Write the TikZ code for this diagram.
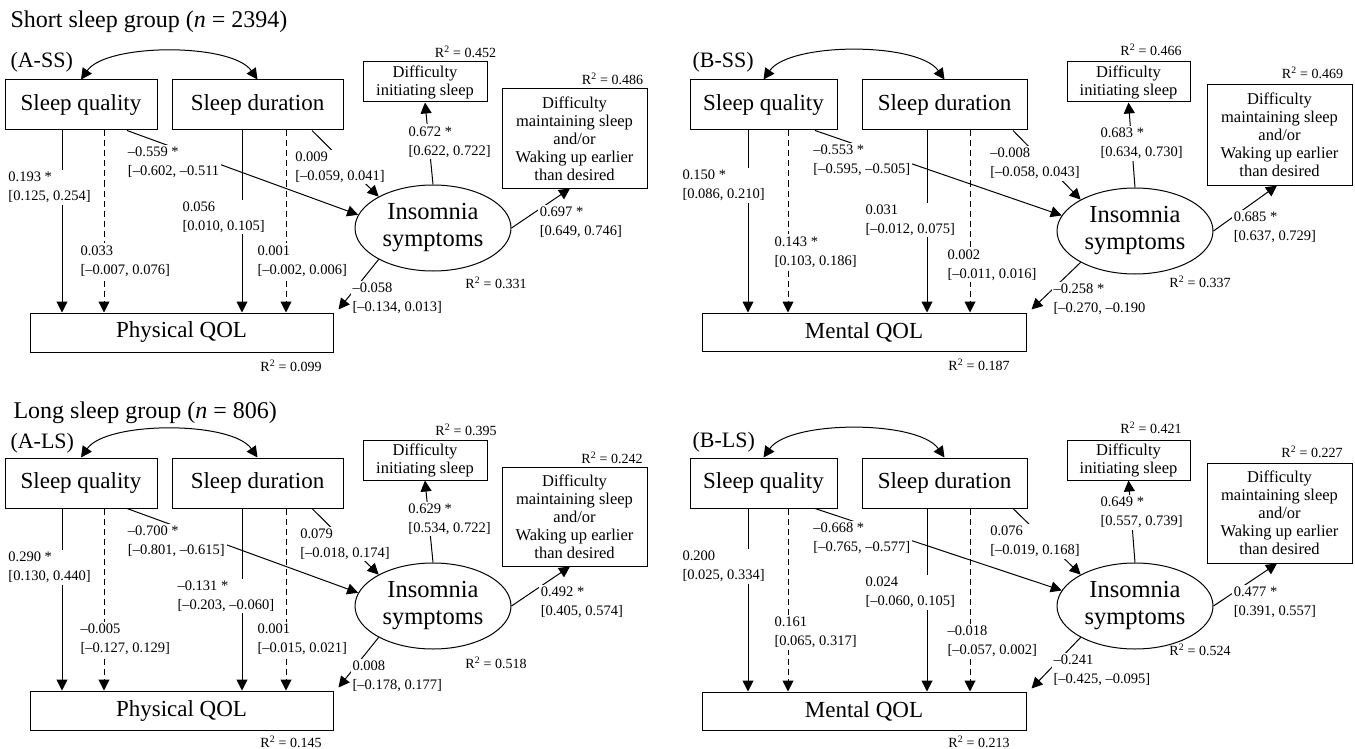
\documentclass[tikz,border=0pt]{standalone}
\usepackage{fontspec}
\setmainfont{Liberation Serif}
\usetikzlibrary{arrows.meta,shapes.geometric}
\tikzset{
  >={Triangle[length=11pt,width=11pt]},
  every path/.style={line width=1pt},
  box/.style={draw, inner sep=0pt, font=\fontsize{23}{27}\selectfont},
  sbox/.style={draw, inner sep=0pt, align=center, font=\fontsize{16.5}{18}\selectfont},
  ell/.style={draw, ellipse, inner sep=0pt, minimum width=156pt, minimum height=86pt, align=center, font=\fontsize{24.5}{27}\selectfont},
  lbl/.style={fill=white, inner sep=2pt, anchor=west, align=left, font=\fontsize{14.5}{19}\selectfont},
  rsq/.style={inner sep=0pt, font=\fontsize{14}{16}\selectfont},
  ttl/.style={inner sep=0pt, anchor=west, font=\fontsize{24}{28}\selectfont},
  tag/.style={inner sep=0pt, anchor=west, font=\fontsize{22}{26}\selectfont},
  dsh/.style={dash pattern=on 6pt off 4pt}
}
\begin{document}
\begin{tikzpicture}[x=1pt, y=1pt]
\useasboundingbox[fill=white] (0,0) rectangle (1355,-749);

% short sleep group
\node[ttl] (tshort) at (10,-22) {Short sleep group (\textit{n} = 2394)};

% (A-SS)
\node[tag] (tag1) at (10,-62) {(A-SS)};
\node[box, minimum width=152pt, minimum height=50pt] (sq1) at (81,-105) {Sleep quality};
\node[box, minimum width=171pt, minimum height=50pt] (sd1) at (257.5,-105) {Sleep duration};
\node[sbox, minimum width=124pt, minimum height=40pt] (di1) at (425,-82) {Difficulty\\initiating sleep};
\node[sbox, minimum width=145pt, minimum height=99pt] (dm1) at (574.5,-138.5) {Difficulty\\maintaining sleep\\and/or\\Waking up earlier\\than desired};
\node[ell] (ins1) at (433,-228) {Insomnia\\symptoms};
\node[box, minimum width=303pt, minimum height=39pt] (qol1) at (181.5,-332.5) {Physical QOL};
\node[rsq] (rdi1) at (465.5,-52) {R\textsuperscript{2} = 0.452};
\node[rsq] (rdm1) at (612.5,-79) {R\textsuperscript{2} = 0.486};
\node[rsq] (rins1) at (496,-283) {R\textsuperscript{2} = 0.331};
\node[rsq] (rqol1) at (291,-366) {R\textsuperscript{2} = 0.099};
\path[<->] (sq1.north) edge[out=55, in=125, looseness=0.65] (sd1.north);
\path[->] ([xshift=-19pt]sq1.south) edge node[lbl, pos=.311, xshift=-56pt] {0.193 *\\{[}0.125, 0.254{]}} ([xshift=-19pt]sq1.south |- qol1.north);
\path[->] ([xshift=23pt]sq1.south) edge[dsh] node[lbl, pos=.716, xshift=-26pt] {0.033\\{[}--0.007, 0.076{]}} ([xshift=23pt]sq1.south |- qol1.north);
\path[->] ([xshift=-15.5pt]sd1.south) edge node[lbl, pos=.475, xshift=-62pt] {0.056\\{[}0.010, 0.105{]}} ([xshift=-15.5pt]sd1.south |- qol1.north);
\path[->] ([xshift=28.5pt]sd1.south) edge[dsh] node[lbl, pos=.716, xshift=-31pt] {0.001\\{[}--0.002, 0.006{]}} ([xshift=28.5pt]sd1.south |- qol1.north);
\path[->] ([xshift=46pt]sq1.south) edge node[lbl, pos=.2, xshift=-47.8pt, yshift=-14.9pt] {--0.559 *\\{[}--0.602, --0.511} (ins1.170);
\path[->] ([xshift=54.5pt]sd1.south) edge node[lbl, pos=.5, xshift=-52.5pt, yshift=-3.5pt] {0.009\\{[}--0.059, 0.041{]}} (ins1.150);
\path[->] (ins1.north) edge node[lbl, pos=.52, xshift=-22.8pt] {0.672 *\\{[}0.622, 0.722{]}} (di1.south);
\path[->] (ins1.east) edge node[lbl, pos=.5, xshift=-3.5pt, yshift=-14pt] {0.697 *\\{[}0.649, 0.746{]}} ([xshift=-4.5pt]dm1.south);
\path[->] (ins1.210) edge node[lbl, pos=.5, xshift=-8.5pt, yshift=-13.5pt] {--0.058\\{[}--0.134, 0.013{]}} ([xshift=5pt,yshift=3pt]qol1.north east);

% (B-SS)
\node[tag] (tag2) at (692,-62) {(B-SS)};
\node[box, minimum width=147pt, minimum height=50pt] (sq2) at (763.5,-105) {Sleep quality};
\node[box, minimum width=165pt, minimum height=50pt] (sd2) at (944.5,-105) {Sleep duration};
\node[sbox, minimum width=123pt, minimum height=40pt] (di2) at (1128.5,-82) {Difficulty\\initiating sleep};
\node[sbox, minimum width=145pt, minimum height=100pt] (dm2) at (1279.5,-135) {Difficulty\\maintaining sleep\\and/or\\Waking up earlier\\than desired};
\node[ell] (ins2) at (1135,-231) {Insomnia\\symptoms};
\node[box, minimum width=324pt, minimum height=38pt] (qol2) at (864,-332) {Mental QOL};
\node[rsq] (rdi2) at (1151,-50) {R\textsuperscript{2} = 0.466};
\node[rsq] (rdm2) at (1312.5,-73) {R\textsuperscript{2} = 0.469};
\node[rsq] (rins2) at (1200,-282) {R\textsuperscript{2} = 0.337};
\node[rsq] (rqol2) at (979,-365) {R\textsuperscript{2} = 0.187};
\path[<->] (sq2.north) edge[out=55, in=125, looseness=0.65] (sd2.north);
\path[->] ([xshift=-15.5pt]sq2.south) edge node[lbl, pos=.30, xshift=-68pt] {0.150 *\\{[}0.086, 0.210{]}} ([xshift=-15.5pt]sq2.south |- qol2.north);
\path[->] ([xshift=24.5pt]sq2.south) edge[dsh] node[lbl, pos=.667, xshift=-16pt] {0.143 *\\{[}0.103, 0.186{]}} ([xshift=24.5pt]sq2.south |- qol2.north);
\path[->] ([xshift=-17.5pt]sd2.south) edge node[lbl, pos=.492, xshift=-64pt] {0.031\\{[}--0.012, 0.075{]}} ([xshift=-17.5pt]sd2.south |- qol2.north);
\path[->] ([xshift=25.5pt]sd2.south) edge[dsh] node[lbl, pos=.738, xshift=-25pt] {0.002\\{[}--0.011, 0.016{]}} ([xshift=25.5pt]sd2.south |- qol2.north);
\path[->] ([xshift=51.5pt]sq2.south) edge node[lbl, pos=.2, xshift=-53.4pt, yshift=-12.9pt] {--0.553 *\\{[}--0.595, --0.505{]}} (ins2.168);
\path[->] ([xshift=68.5pt]sd2.south) edge node[lbl, pos=.45, xshift=-55.6pt, yshift=-1.5pt] {--0.008\\{[}--0.058, 0.043{]}} (ins2.150);
\path[->] (ins2.north) edge node[lbl, pos=.518, xshift=-33.6pt] {0.683 *\\{[}0.634, 0.730{]}} (di2.south);
\path[->] (ins2.east) edge node[lbl, pos=.4, xshift=-7.6pt, yshift=-14.6pt] {0.685 *\\{[}0.637, 0.729{]}} ([xshift=-2.5pt]dm2.south);
\path[->] (ins2.210) edge node[lbl, pos=.5, xshift=-5pt, yshift=-13pt] {--0.258 *\\{[}--0.270, --0.190} ([xshift=5pt,yshift=3pt]qol2.north east);

\begin{scope}[yshift=-378pt]
% long sleep group
\node[ttl] (tlong) at (13,-35) {Long sleep group (\textit{n} = 806)};

% (A-LS)
\node[tag] (tag3) at (10,-65) {(A-LS)};
\node[box, minimum width=152pt, minimum height=50pt] (sq3) at (81,-105) {Sleep quality};
\node[box, minimum width=171pt, minimum height=50pt] (sd3) at (257.5,-105) {Sleep duration};
\node[sbox, minimum width=124pt, minimum height=40pt] (di3) at (425,-82) {Difficulty\\initiating sleep};
\node[sbox, minimum width=145pt, minimum height=99pt] (dm3) at (574.5,-138.5) {Difficulty\\maintaining sleep\\and/or\\Waking up earlier\\than desired};
\node[ell] (ins3) at (433,-228) {Insomnia\\symptoms};
\node[box, minimum width=303pt, minimum height=39pt] (qol3) at (181.5,-332.5) {Physical QOL};
\node[rsq] (rdi3) at (466,-52) {R\textsuperscript{2} = 0.395};
\node[rsq] (rdm3) at (612,-80) {R\textsuperscript{2} = 0.242};
\node[rsq] (rins3) at (496,-285) {R\textsuperscript{2} = 0.518};
\node[rsq] (rqol3) at (291,-364) {R\textsuperscript{2} = 0.145};
\path[<->] (sq3.north) edge[out=55, in=125, looseness=0.65] (sd3.north);
\path[->] ([xshift=-19pt]sq3.south) edge node[lbl, pos=.322, xshift=-56pt] {0.290 *\\{[}0.130, 0.440{]}} ([xshift=-19pt]sq3.south |- qol3.north);
\path[->] ([xshift=23pt]sq3.south) edge[dsh] node[lbl, pos=.721, xshift=-26pt] {--0.005\\{[}--0.127, 0.129{]}} ([xshift=23pt]sq3.south |- qol3.north);
\path[->] ([xshift=-15.5pt]sd3.south) edge node[lbl, pos=.481, xshift=-67pt] {--0.131 *\\{[}--0.203, --0.060{]}} ([xshift=-15.5pt]sd3.south |- qol3.north);
\path[->] ([xshift=28.5pt]sd3.south) edge[dsh] node[lbl, pos=.721, xshift=-31pt] {0.001\\{[}--0.015, 0.021{]}} ([xshift=28.5pt]sd3.south |- qol3.north);
\path[->] ([xshift=46pt]sq3.south) edge node[lbl, pos=.2, xshift=-47.8pt, yshift=-16pt] {--0.700 *\\{[}--0.801, --0.615{]}} (ins3.170);
\path[->] ([xshift=54.5pt]sd3.south) edge node[lbl, pos=.5, xshift=-47.5pt, yshift=-2.5pt] {0.079\\{[}--0.018, 0.174{]}} (ins3.150);
\path[->] (ins3.north) edge node[lbl, pos=.53, xshift=-22.8pt] {0.629 *\\{[}0.534, 0.722{]}} (di3.south);
\path[->] (ins3.east) edge node[lbl, pos=.5, xshift=-2.5pt, yshift=-16pt] {0.492 *\\{[}0.405, 0.574{]}} ([xshift=-4.5pt]dm3.south);
\path[->] (ins3.210) edge node[lbl, pos=.5, xshift=-8.5pt, yshift=-13.5pt] {0.008\\{[}--0.178, 0.177{]}} ([xshift=5pt,yshift=3pt]qol3.north east);

% (B-LS)
\node[tag] (tag4) at (692,-64) {(B-LS)};
\node[box, minimum width=147pt, minimum height=50pt] (sq4) at (763.5,-105) {Sleep quality};
\node[box, minimum width=165pt, minimum height=50pt] (sd4) at (944.5,-105) {Sleep duration};
\node[sbox, minimum width=123pt, minimum height=40pt] (di4) at (1128.5,-82) {Difficulty\\initiating sleep};
\node[sbox, minimum width=145pt, minimum height=100pt] (dm4) at (1279.5,-135) {Difficulty\\maintaining sleep\\and/or\\Waking up earlier\\than desired};
\node[ell] (ins4) at (1135,-228) {Insomnia\\symptoms};
\node[box, minimum width=324pt, minimum height=38pt] (qol4) at (864,-333) {Mental QOL};
\node[rsq] (rdi4) at (1151,-50) {R\textsuperscript{2} = 0.421};
\node[rsq] (rdm4) at (1312,-74) {R\textsuperscript{2} = 0.227};
\node[rsq] (rins4) at (1200,-272) {R\textsuperscript{2} = 0.524};
\node[rsq] (rqol4) at (979,-364) {R\textsuperscript{2} = 0.213};
\path[<->] (sq4.north) edge[out=55, in=125, looseness=0.65] (sd4.north);
\path[->] ([xshift=-15.5pt]sq4.south) edge node[lbl, pos=.317, xshift=-68pt] {0.200\\{[}0.025, 0.334{]}} ([xshift=-15.5pt]sq4.south |- qol4.north);
\path[->] ([xshift=24.5pt]sq4.south) edge[dsh] node[lbl, pos=.678, xshift=-16pt] {0.161\\{[}0.065, 0.317{]}} ([xshift=24.5pt]sq4.south |- qol4.north);
\path[->] ([xshift=-17.5pt]sd4.south) edge node[lbl, pos=.459, xshift=-64pt] {0.024\\{[}--0.060, 0.105{]}} ([xshift=-17.5pt]sd4.south |- qol4.north);
\path[->] ([xshift=25.5pt]sd4.south) edge[dsh] node[lbl, pos=.727, xshift=-25pt] {--0.018\\{[}--0.057, 0.002{]}} ([xshift=25.5pt]sd4.south |- qol4.north);
\path[->] ([xshift=51.5pt]sq4.south) edge node[lbl, pos=.2, xshift=-53.4pt, yshift=-13.9pt] {--0.668 *\\{[}--0.765, --0.577{]}} (ins4.168);
\path[->] ([xshift=68.5pt]sd4.south) edge node[lbl, pos=.45, xshift=-55.6pt, yshift=-3.5pt] {0.076\\{[}--0.019, 0.168{]}} (ins4.150);
\path[->] (ins4.north) edge node[lbl, pos=.61, xshift=-33pt] {0.649 *\\{[}0.557, 0.739{]}} (di4.south);
\path[->] (ins4.east) edge node[lbl, pos=.4, xshift=-7.6pt, yshift=-13.6pt] {0.477 *\\{[}0.391, 0.557{]}} ([xshift=-2.5pt]dm4.south);
\path[->] (ins4.210) edge node[lbl, pos=.5, xshift=-5pt, yshift=-7pt] {--0.241\\{[}--0.425, --0.095{]}} ([xshift=5pt,yshift=3pt]qol4.north east);
\end{scope}
\end{tikzpicture}
\end{document}
